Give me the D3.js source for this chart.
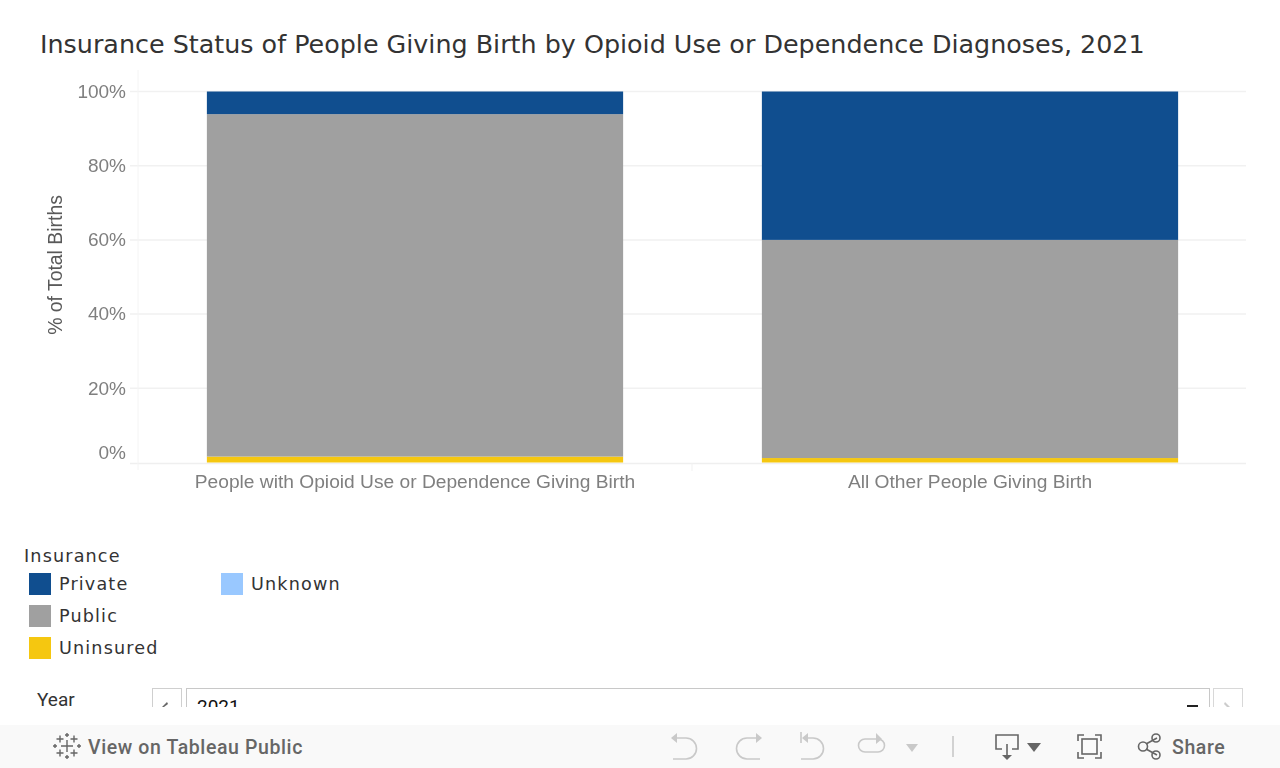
<!DOCTYPE html>
<html><head><meta charset="utf-8">
<style>
html,body{margin:0;padding:0;background:#fff;overflow:hidden}
svg{display:block}
</style>
<script src="https://cdnjs.cloudflare.com/ajax/libs/d3/7.8.5/d3.min.js"></script>
</head><body><svg id="c" width="1280" height="768"></svg>
<script>
const categories=["People with Opioid Use or Dependence Giving Birth","All Other People Giving Birth"];
const insuranceKeys=["Uninsured","Public","Private"];
const uninsured=[1.6,1.2];
const publicIns=[92.3,58.8];
const privateIns=[6.1,40.0];
const yTicks=[0,20,40,60,80,100];
const legendCol1=["Private","Public","Uninsured"];
const legendCol2=["Unknown"];
const colors={Private:"#104e8f",Public:"#a0a0a0",Uninsured:"#f5c710",Unknown:"#99c8ff"};
const title="Insurance Status of People Giving Birth by Opioid Use or Dependence Diagnoses, 2021";

const svg=d3.select("#c");
const sans="'DejaVu Sans',sans-serif", arial="'Liberation Sans',Arial,sans-serif";
svg.append("text").attr("x",40).attr("y",53).attr("font-family",sans).attr("font-size",25.4).attr("fill","#333").text(title);

const x=d3.scaleBand().domain(categories).range([137.5,1247.5]).paddingInner(0.25).paddingOuter(0.125);
const y=d3.scaleLinear().domain([0,100]).range([462.5,91.5]);

// gridlines and frame
const g=svg.append("g");
g.selectAll("line.grid").data(yTicks.filter(d=>d>0)).join("line").attr("class","grid")
 .attr("x1",130).attr("x2",1246).attr("y1",d=>y(d)).attr("y2",d=>y(d)).attr("stroke","#f1f1f1").attr("stroke-width",1.5);
g.append("line").attr("x1",130).attr("x2",1246).attr("y1",463.5).attr("y2",463.5).attr("stroke","#efefef").attr("stroke-width",1.5);
g.append("line").attr("x1",138).attr("x2",138).attr("y1",70).attr("y2",470).attr("stroke","#f4f4f4");
g.append("line").attr("x1",692).attr("x2",692).attr("y1",463).attr("y2",471).attr("stroke","#f1f1f1");

// bars
const rows=categories.map((c,i)=>({cat:c,Uninsured:uninsured[i],Public:publicIns[i],Private:privateIns[i]}));
const stacked=d3.stack().keys(insuranceKeys)(rows);
svg.append("g").selectAll("g").data(stacked).join("g").attr("fill",s=>colors[s.key])
 .selectAll("rect").data(s=>s).join("rect")
 .attr("x",d=>x(d.data.cat)).attr("width",x.bandwidth())
 .attr("y",d=>y(d[1])).attr("height",d=>y(d[0])-y(d[1]));

// axes text
const ax=svg.append("g").attr("font-family",arial).attr("fill","#7f7f7f").attr("style","filter:blur(0.35px)");
ax.selectAll("text.yt").data(yTicks).join("text").attr("class","yt")
 .attr("x",126).attr("text-anchor","end").attr("font-size",19)
 .attr("y",d=>d===0?458.5:y(d)+6.3).text(d=>d+"%");
ax.selectAll("text.xt").data(categories).join("text").attr("class","xt")
 .attr("x",d=>x(d)+x.bandwidth()/2).attr("y",488).attr("text-anchor","middle").attr("font-size",19.2).text(d=>d);
ax.append("text").attr("transform","translate(62,265) rotate(-90)").attr("text-anchor","middle")
 .attr("font-size",19.4).attr("fill","#595959").text("% of Total Births");

// legend
const lf="Roboto,sans-serif";
svg.append("text").attr("x",24).attr("y",562).attr("font-family",sans).attr("font-size",17.6).attr("letter-spacing",1.15).attr("fill","#333").text("Insurance");
function legend(items,xs){
 const l=svg.append("g").selectAll("g").data(items).join("g").attr("transform",(d,i)=>`translate(${xs},${573+i*32})`);
 l.append("rect").attr("width",22).attr("height",22).attr("fill",d=>colors[d]);
 l.append("text").attr("x",30).attr("y",17).attr("font-family",sans).attr("font-size",17.6).attr("letter-spacing",1.15).attr("fill","#333").text(d=>d);
}
legend(legendCol1,29);legend(legendCol2,221);

// year filter
svg.append("text").attr("x",37).attr("y",706).attr("font-family",lf).attr("font-size",19).attr("fill","#333").text("Year");
const f=svg.append("g");
f.append("rect").attr("x",152.5).attr("y",688.5).attr("width",29).attr("height",40).attr("fill","#fff").attr("stroke","#cfcfcf");
f.append("rect").attr("x",186.5).attr("y",688.5).attr("width",1023).attr("height",40).attr("fill","#fff").attr("stroke","#c8c8c8");
f.append("rect").attr("x",1213.5).attr("y",688.5).attr("width",29).attr("height",40).attr("fill","#fff").attr("stroke","#d8d8d8");
f.append("text").attr("x",197).attr("y",713).attr("font-family",lf).attr("font-size",19).attr("fill","#111").text("2021");
f.append("path").attr("d","M162 707L167 702L168 704L164 707Z").attr("fill","#666");
f.append("path").attr("d","M1225 702L1230 707L1227 707L1224 704Z").attr("fill","#ccc");
f.append("rect").attr("x",1187).attr("y",705).attr("width",11).attr("height",2).attr("fill","#222");
svg.append("rect").attr("x",0).attr("y",707).attr("width",1280).attr("height",19).attr("fill","#fff");

// toolbar
svg.append("rect").attr("x",0).attr("y",725).attr("width",1280).attr("height",43).attr("fill","#f9f9f9");
const tb=svg.append("g");
const star=tb.append("g").attr("stroke","#666").attr("stroke-width",1.4).attr("fill","none");
[[67,746,6],[60,739,3.5],[74,739,3.5],[60,753,3.5],[74,753,3.5],[67,735,2],[67,757,2],[55,746,2],[79,746,2]].forEach(([a,b,r])=>{
 star.append("path").attr("d",`M${a-r} ${b}H${a+r}M${a} ${b-r}V${b+r}`);
});
const tbText={"font-family":lf,"font-size":19.5,"font-weight":500,"letter-spacing":0.6,"fill":"#666"};
const t1=tb.append("text").attr("x",88).attr("y",754).text("View on Tableau Public");
const t2=tb.append("text").attr("x",1172).attr("y",754).text("Share");
Object.entries(tbText).forEach(([k,v])=>{t1.attr(k,v);t2.attr(k,v);});
const ic=tb.append("g").attr("fill","none").attr("stroke","#c9c9c9").attr("stroke-width",1.6);
ic.append("path").attr("d","M673 738H686A10 10 0 0 1 686 759H673");
ic.append("path").attr("d","M677 733L671 738L677 743").attr("fill","#c9c9c9").attr("stroke","none");
ic.append("path").attr("d","M760 738H747A10 10 0 0 0 747 759H760");
ic.append("path").attr("d","M756 733L762 738L756 743").attr("fill","#c9c9c9").attr("stroke","none");
ic.append("path").attr("d","M804 738H813A10 10 0 0 1 813 759H801M801 732V743");
ic.append("path").attr("d","M808 733L802 738L808 743").attr("fill","#c9c9c9").attr("stroke","none");
ic.append("path").attr("d","M878 739H865A6 6 0 0 0 865 752H878A6 6 0 0 0 878 739");
ic.append("path").attr("d","M876 733L882 739L876 744").attr("fill","#c9c9c9").attr("stroke","none");
tb.append("path").attr("d","M906 744H918L912 752Z").attr("fill","#c9c9c9");
tb.append("line").attr("x1",953).attr("x2",953).attr("y1",736).attr("y2",757).attr("stroke","#c4c4c4").attr("stroke-width",1.5);
const dk=tb.append("g").attr("fill","none").attr("stroke","#666").attr("stroke-width",1.6);
dk.append("path").attr("d","M1002 749H996V735H1018V749H1012M1007 744V757");
tb.append("path").attr("d","M1002 755H1012L1007 760Z").attr("fill","#666");
tb.append("path").attr("d","M1027 743H1041L1034 752Z").attr("fill","#666");
dk.append("path").attr("d","M1078 741V735H1084M1095 735H1101V741M1101 752V758H1095M1084 758H1078V752");
dk.append("rect").attr("x",1082).attr("y",739).attr("width",15).attr("height",15);
dk.append("path").attr("d","M1146 744L1157 738M1146 749L1157 755");
dk.append("circle").attr("cx",1143).attr("cy",746.5).attr("r",4.5);
dk.append("circle").attr("cx",1156).attr("cy",738).attr("r",4);
dk.append("circle").attr("cx",1156).attr("cy",755).attr("r",4);
</script></body></html>
